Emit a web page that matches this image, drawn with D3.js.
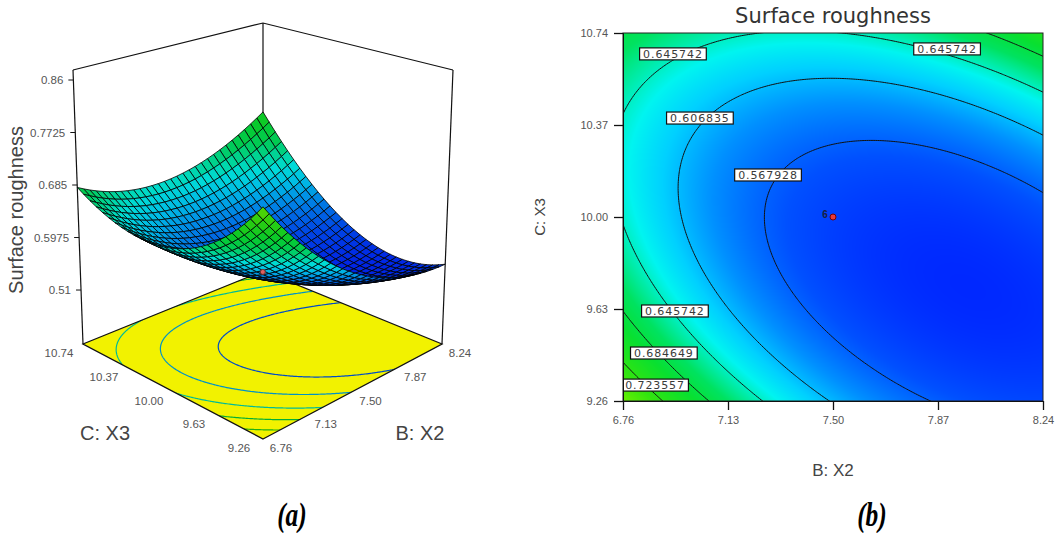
<!DOCTYPE html>
<html><head><meta charset="utf-8">
<script src="https://cdn.jsdelivr.net/npm/d3@7"></script>
<style>body{margin:0;background:#fff}svg{display:block}</style>
</head><body>
<svg id="chart" width="1057" height="533"></svg>
<script>
// ---------------- data ----------------
const bTicks = [6.76, 7.13, 7.50, 7.87, 8.24];
const cTicks = [9.26, 9.63, 10.00, 10.37, 10.74];
const zTicks = [0.51, 0.5975, 0.685, 0.7725, 0.86];
const zTickLabels = ["0.51", "0.5975", "0.685", "0.7725", "0.86"];
const bTickLabels = ["6.76", "7.13", "7.50", "7.87", "8.24"];
const cTickLabels = ["9.26", "9.63", "10.00", "10.37", "10.74"];
const contourLevels = [0.567928, 0.606835, 0.645742, 0.684649, 0.723557];
// fitted quadratic response model (coded units): [b0, B, C, BC, B^2, C^2]
const modelCoefs = [0.548, -0.044, 0.020, 0.060, 0.052, 0.077];
const labelB = [6.936, 7.902, 7.031, 7.271, 6.943, 6.904, 6.873];
const labelC = [10.656, 10.676, 10.398, 10.169, 9.622, 9.453, 9.324];
const labelText = ["0.645742", "0.645742", "0.606835", "0.567928", "0.645742", "0.684649", "0.723557"];
const designB = [7.50];
const designC = [10.00];
const designCount = ["6"];

// ---------------- model ----------------
const bMid = (bTicks[0] + bTicks[4]) / 2, bHalf = (bTicks[4] - bTicks[0]) / 2;
const cMid = (cTicks[0] + cTicks[4]) / 2, cHalf = (cTicks[4] - cTicks[0]) / 2;
function model(B, C) {
  const b = (B - bMid) / bHalf, c = (C - cMid) / cHalf, k = modelCoefs;
  return k[0] + k[1] * b + k[2] * c + k[3] * b * c + k[4] * b * b + k[5] * c * c;
}
const palStops = [0.53, 0.56, 0.59, 0.615, 0.635, 0.652, 0.67, 0.695, 0.73, 0.765];
const palColors = ["#0028ff", "#0050ff", "#0090ff", "#00d0ff", "#00f4f0", "#00eca8", "#00e260", "#08e030", "#30e410", "#70f000"];
const color = d3.scaleLinear().domain(palStops).range(palColors).interpolate(d3.interpolateRgb).clamp(true);

const svg = d3.select("#chart");
const SANS = "'Liberation Sans', Arial, sans-serif";

// ================= panel (b) : contour =================
const x2 = d3.scaleLinear().domain([bTicks[0], bTicks[4]]).range([623, 1043]);
const y2 = d3.scaleLinear().domain([cTicks[0], cTicks[4]]).range([401, 33]);
const pb = svg.append("g");
const [px0, px1] = x2.range(), [py1, py0] = y2.range();
const pw = px1 - px0, ph = py1 - py0;

svg.append("defs").append("clipPath").attr("id", "clipB")
  .append("rect").attr("x", px0).attr("y", py0).attr("width", pw).attr("height", ph);

const cv = document.createElement("canvas"); cv.width = pw; cv.height = ph;
const ctx = cv.getContext("2d"); const img = ctx.createImageData(pw, ph);
for (let j = 0; j < ph; j++) for (let i = 0; i < pw; i++) {
  const col = d3.rgb(color(model(x2.invert(px0 + i + 0.5), y2.invert(py0 + j + 0.5))));
  const k = 4 * (j * pw + i);
  img.data[k] = col.r; img.data[k + 1] = col.g; img.data[k + 2] = col.b; img.data[k + 3] = 255;
}
ctx.putImageData(img, 0, 0);
pb.append("image").attr("href", cv.toDataURL()).attr("x", px0).attr("y", py0)
  .attr("width", pw).attr("height", ph).attr("preserveAspectRatio", "none");

function contourGrid(Bmin, Bmax, Cmin, Cmax, nx, ny) {
  const vals = new Float64Array(nx * ny);
  for (let j = 0; j < ny; j++) for (let i = 0; i < nx; i++) {
    vals[j * nx + i] = model(Bmin + i * (Bmax - Bmin) / (nx - 1), Cmax - j * (Cmax - Cmin) / (ny - 1));
  }
  const cs = d3.contours().size([nx, ny]).thresholds(contourLevels)(vals);
  const toData = (gx, gy) => [Bmin + (gx - 0.5) * (Bmax - Bmin) / (nx - 1), Cmax - (gy - 0.5) * (Cmax - Cmin) / (ny - 1)];
  return { cs, toData };
}
const ext = 0.06 * (bTicks[4] - bTicks[0]);
const g2 = contourGrid(bTicks[0] - ext, bTicks[4] + ext, cTicks[0] - ext, cTicks[4] + ext, 260, 240);
const path2 = d3.geoPath(d3.geoTransform({
  point(px, py) { const [B, C] = g2.toData(px, py); this.stream.point(x2(B), y2(C)); }
}));
const clipG = pb.append("g").attr("clip-path", "url(#clipB)");
clipG.selectAll("path.iso").data(g2.cs).join("path").attr("class", "iso")
  .attr("d", path2).attr("fill", "none").attr("stroke", "#111").attr("stroke-width", 1);

// contour labels
labelText.forEach((t, i) => {
  const cx = x2(labelB[i]), cy = y2(labelC[i]);
  const lg = clipG.append("g");
  const r = lg.append("rect");
  const tx = lg.append("text").attr("x", cx).attr("y", cy + 4).attr("text-anchor", "middle")
    .attr("font-family", "'DejaVu Sans', sans-serif").attr("font-size", 11).attr("letter-spacing", 0.9)
    .attr("fill", "#3a3a3a").text(t);
  const w = tx.node().getComputedTextLength() + 7;
  r.attr("x", cx - w / 2).attr("y", cy - 6).attr("width", w).attr("height", 12)
    .attr("fill", "#fff").attr("stroke", "#111").attr("stroke-width", 1.2);
});

// design point
designB.forEach((B, i) => {
  const cx = x2(B), cy = y2(designC[i]);
  pb.append("circle").attr("cx", cx).attr("cy", cy).attr("r", 3)
    .attr("fill", "#e83a3a").attr("stroke", "#7a0000").attr("stroke-width", 1);
  pb.append("text").attr("x", cx - 8).attr("y", cy + 1).attr("text-anchor", "middle")
    .attr("font-family", SANS).attr("font-weight", "bold").attr("font-size", 10).attr("fill", "#1a2040")
    .text(designCount[i]);
});

pb.append("rect").attr("x", px0).attr("y", py0).attr("width", pw).attr("height", ph)
  .attr("fill", "none").attr("stroke", "#222").attr("stroke-width", 1);

// axes
const axB = pb.append("g").attr("transform", `translate(0,${py1})`)
  .call(d3.axisBottom(x2).tickValues(bTicks).tickFormat((d, i) => bTickLabels[i]).tickSize(9).tickPadding(6));
const axC = pb.append("g").attr("transform", `translate(${px0},0)`)
  .call(d3.axisLeft(y2).tickValues(cTicks).tickFormat((d, i) => cTickLabels[i]).tickSize(9).tickPadding(6));
[axB, axC].forEach(a => {
  a.select(".domain").attr("stroke", "#111");
  a.selectAll(".tick line").attr("stroke", "#111").attr("stroke-width", 1.3);
  a.selectAll(".tick text").attr("font-family", SANS).attr("font-size", 11).attr("fill", "#555");
});

pb.append("text").attr("x", (px0 + px1) / 2).attr("y", 23).attr("text-anchor", "middle")
  .attr("font-family", "'DejaVu Sans', sans-serif").attr("font-size", 21).attr("fill", "#333")
  .text("Surface roughness");
pb.append("text").attr("x", (px0 + px1) / 2).attr("y", 476).attr("text-anchor", "middle")
  .attr("font-family", SANS).attr("font-size", 17).attr("fill", "#444").text("B: X2");
pb.append("text").attr("transform", `translate(545,${(py0 + py1) / 2}) rotate(-90)`).attr("text-anchor", "middle")
  .attr("font-family", SANS).attr("font-size", 15).attr("fill", "#444").text("C: X3");

// ================= panel (a) : 3D surface =================
const pa = svg.append("g");
const floorPts = { F: [263, 439], R: [442, 344], L: [83, 344], K: [263, 271] };
const topPts = { F: [263, 128], R: [453, 70], L: [73, 70], K: [263, 23] };
const uS = d3.scaleLinear().domain([bTicks[0], bTicks[4]]).range([0, 1]);
const vS = d3.scaleLinear().domain([cTicks[0], cTicks[4]]).range([0, 1]);
const zT = d3.scaleLinear().domain([zTicks[0], zTicks[4]]).range([0.197, 0.9635]);
function bil(P, u, v) {
  return [0, 1].map(d => (1 - u) * (1 - v) * P.F[d] + u * (1 - v) * P.R[d] + (1 - u) * v * P.L[d] + u * v * P.K[d]);
}
function proj(B, C, z) {
  const u = uS(B), v = vS(C), t = zT(z);
  const p0 = bil(floorPts, u, v), p1 = bil(topPts, u, v);
  return [p0[0] + (p1[0] - p0[0]) * t, p0[1] + (p1[1] - p0[1]) * t];
}
const zFloor = zT.invert(0), zTop = zT.invert(1);
const Bl = bTicks[0], Bh = bTicks[4], Cl = cTicks[0], Ch = cTicks[4];

// floor
const floorPoly = [[Bl, Cl], [Bh, Cl], [Bh, Ch], [Bl, Ch]].map(p => proj(p[0], p[1], zFloor));
pa.append("defs").append("clipPath").attr("id", "clipFloor").append("polygon")
  .attr("points", floorPoly.map(p => p.join(",")).join(" "));
pa.append("polygon").attr("points", floorPoly.map(p => p.join(",")).join(" ")).attr("fill", "#f2f200");
const g3 = contourGrid(Bl - ext, Bh + ext, Cl - ext, Ch + ext, 200, 200);
const path3 = d3.geoPath(d3.geoTransform({
  point(px, py) { const [B, C] = g3.toData(px, py); const p = proj(B, C, zFloor); this.stream.point(p[0], p[1]); }
}));
pa.append("g").attr("clip-path", "url(#clipFloor)").selectAll("path").data(g3.cs).join("path")
  .attr("d", path3).attr("fill", "none")
  .attr("stroke", d => d3.color(color(d.value)).darker(0.7)).attr("stroke-width", 1.2);
pa.append("polygon").attr("points", floorPoly.map(p => p.join(",")).join(" "))
  .attr("fill", "none").attr("stroke", "#111").attr("stroke-width", 1.3);

// box lines
const lineFn = d3.line();
const corners = [[Bl, Ch], [Bh, Ch], [Bh, Cl]];
corners.forEach(([B, C]) => {
  pa.append("path").attr("d", lineFn([proj(B, C, zFloor), proj(B, C, zTop)]))
    .attr("stroke", "#111").attr("stroke-width", 1.2).attr("fill", "none");
});
pa.append("path").attr("d", lineFn(corners.map(([B, C]) => proj(B, C, zTop))))
  .attr("stroke", "#111").attr("stroke-width", 1.2).attr("fill", "none");

// z ticks
zTicks.forEach((z, i) => {
  const p = proj(Bl, Ch, z);
  pa.append("line").attr("x1", p[0] - 5).attr("x2", p[0]).attr("y1", p[1]).attr("y2", p[1])
    .attr("stroke", "#111").attr("stroke-width", 1);
  pa.append("text").attr("x", p[0] - 10).attr("y", p[1] + 4).attr("text-anchor", "end")
    .attr("font-family", SANS).attr("font-size", 11.5).attr("fill", "#555").text(zTickLabels[i]);
});
pa.append("text").attr("transform", "translate(23,210) rotate(-90)").attr("text-anchor", "middle")
  .attr("font-family", SANS).attr("font-size", 20).attr("fill", "#444").text("Surface roughness");

// floor tick labels
cTicks.forEach((C, i) => {
  const p = proj(Bl, C, zFloor);
  pa.append("text").attr("x", p[0] - 24).attr("y", p[1] + 13).attr("text-anchor", "middle")
    .attr("font-family", SANS).attr("font-size", 11.5).attr("fill", "#555").text(cTickLabels[i]);
});
bTicks.forEach((B, i) => {
  const p = proj(B, Cl, zFloor);
  pa.append("text").attr("x", p[0] + 18).attr("y", p[1] + 13).attr("text-anchor", "middle")
    .attr("font-family", SANS).attr("font-size", 11.5).attr("fill", "#555").text(bTickLabels[i]);
});
pa.append("text").attr("x", 105).attr("y", 440).attr("text-anchor", "middle")
  .attr("font-family", SANS).attr("font-size", 20).attr("fill", "#444").text("C: X3");
pa.append("text").attr("x", 420).attr("y", 440).attr("text-anchor", "middle")
  .attr("font-family", SANS).attr("font-size", 20).attr("fill", "#444").text("B: X2");

// surface mesh
const N = 30, cells = [];
const dB = (Bh - Bl) / N, dC = (Ch - Cl) / N;
for (let i = 0; i < N; i++) for (let j = 0; j < N; j++) {
  const B0 = Bl + i * dB, C0 = Cl + j * dC;
  const pts = [[B0, C0], [B0 + dB, C0], [B0 + dB, C0 + dC], [B0, C0 + dC]].map(([B, C]) => proj(B, C, model(B, C)));
  cells.push({ i, j, pts, z: model(B0 + dB / 2, C0 + dC / 2) });
}
cells.sort((a, b) => (b.i + b.j) - (a.i + a.j));
pa.append("g").selectAll("polygon").data(cells).join("polygon")
  .attr("points", d => d.pts.map(p => p.join(",")).join(" "))
  .attr("fill", d => d3.color(color(d.z)).darker(0.3)).attr("stroke", "#000").attr("stroke-width", 0.8)
  .attr("stroke-linejoin", "round");

// design point on surface
designB.forEach((B, i) => {
  const p = proj(B, designC[i], model(B, designC[i]));
  pa.append("circle").attr("cx", p[0]).attr("cy", p[1]).attr("r", 2.5)
    .attr("fill", "#e06060").attr("stroke", "#6a3030").attr("stroke-width", 1);
});

// panel letters
[["(a)", 292], ["(b)", 872]].forEach(([t, x]) => {
  svg.append("text").attr("transform", `translate(${x},526) scale(0.85,1.1)`).attr("text-anchor", "middle")
    .attr("font-family", "'Liberation Serif', 'Times New Roman', serif").attr("font-weight", "bold")
    .attr("font-style", "italic").attr("font-size", 30).attr("fill", "#000").text(t);
});
</script>
</body></html>
